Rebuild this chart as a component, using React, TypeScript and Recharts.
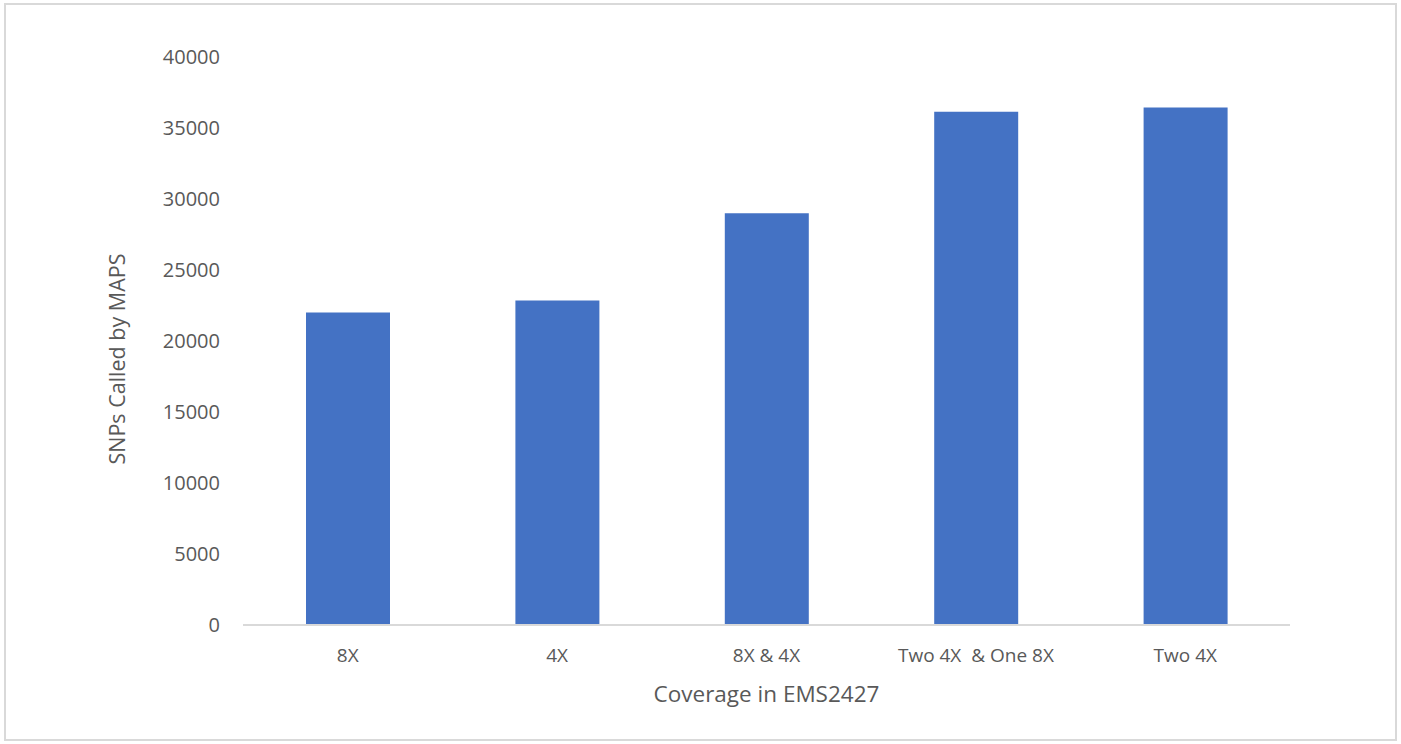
import React from 'react';
import { BarChart, Bar, XAxis, YAxis, Label } from 'recharts';

const coverages = ['8X', '4X', '8X & 4X', 'Two 4X\u00a0 & One 8X', 'Two 4X'];
const snpCounts = [22000, 22850, 29000, 36150, 36450];
const yTicks = [0, 5000, 10000, 15000, 20000, 25000, 30000, 35000, 40000];

const data = coverages.map((name, i) => ({ name, snps: snpCounts[i] }));

const FONT = '"Open Sans", "Liberation Sans", sans-serif';
const TEXT = '#595959';

export default function App() {
  return (
    <div style={{ position: 'absolute', left: 0, top: 0, width: 1401, height: 744, background: '#fff', fontFamily: FONT }}>
      <div
        style={{
          position: 'absolute',
          left: 4,
          top: 3,
          width: 1389,
          height: 734,
          border: '2px solid #d9d9d9',
        }}
      />
      <BarChart
        width={1401}
        height={744}
        data={data}
        margin={{ top: 57, right: 111, bottom: 89, left: 163 }}
        style={{ position: 'absolute', left: 0, top: 0 }}
      >
        <XAxis
          dataKey="name"
          height={30}
          axisLine={{ stroke: '#d9d9d9', strokeWidth: 2 }}
          tickLine={false}
          tickSize={0}
          tickMargin={24}
          tick={{ fill: TEXT, fontSize: 19, fontFamily: FONT }}
          interval={0}
        >
          <Label
            value="Coverage in EMS2427"
            position="insideBottom"
            offset={-47}
            style={{ fill: TEXT, fontSize: 22.5, fontFamily: FONT }}
          />
        </XAxis>
        <YAxis
          width={80}
          domain={[0, 40000]}
          ticks={yTicks}
          axisLine={false}
          tickLine={false}
          tickSize={0}
          tickMargin={23}
          tick={{ fill: TEXT, fontSize: 20, fontFamily: FONT }}
        >
          <Label
            content={({ viewBox }: any) => {
              const cy = viewBox.y + viewBox.height / 2 + 18;
              return (
                <text
                  x={116}
                  y={cy}
                  transform={`rotate(-90, 116, ${cy})`}
                  textAnchor="middle"
                  dominantBaseline="central"
                  fill={TEXT}
                  fontSize={21.5}
                  fontFamily={FONT}
                >
                  SNPs Called by MAPS
                </text>
              );
            }}
          />
        </YAxis>
        <Bar dataKey="snps" fill="#4472c4" barSize={84} isAnimationActive={false} />
      </BarChart>
    </div>
  );
}
